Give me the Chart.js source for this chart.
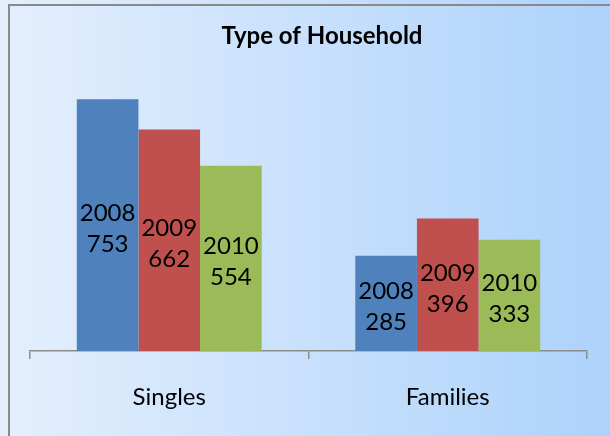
<!DOCTYPE html>
<html>
<head>
<meta charset="utf-8">
<script src="https://cdn.jsdelivr.net/npm/chart.js@4"></script>
<style>
  html, body { margin: 0; padding: 0; }
  body { width: 610px; height: 436px; overflow: hidden; position: relative;
         background: linear-gradient(to right, #E4EFFD, #ADD2FB); }
  #frame { position: absolute; left: 8px; top: 4px; width: 700px; height: 500px;
           border-left: 2px solid #898989; border-top: 2px solid #898989; }
  #householdChart { position: absolute; left: 0; top: 0; }
</style>
</head>
<body>
<div id="frame"></div>
<canvas id="householdChart" width="610" height="436"></canvas>
<script>
let categories = ["Singles", "Families"];
let years = ["2008", "2009", "2010"];
let values2008 = [753, 285];
let values2009 = [662, 396];
let values2010 = [554, 333];
let colors = ["#4F81BD", "#C0504D", "#9BBB59"];
let chartTitle = "Type of Household";

// two line label (year + value) centered in every bar
const barLabels = {
    id: "barLabels",
    afterDatasetsDraw(chart) {
        const ctx = chart.ctx;
        ctx.save();
        ctx.font = "24px Lato";
        ctx.fillStyle = "#000";
        ctx.textAlign = "center";
        ctx.textBaseline = "middle";
        chart.data.datasets.forEach((ds, i) => {
            chart.getDatasetMeta(i).data.forEach((bar, j) => {
                const mid = (bar.y + bar.base) / 2 + 3.5;
                ctx.fillText(ds.label, bar.x, mid - 15.5);
                ctx.fillText(String(ds.data[j]), bar.x, mid + 15.5);
            });
        });
        ctx.restore();
    }
};

const titleText = {
    id: "titleText",
    afterDraw(chart) {
        const ctx = chart.ctx;
        ctx.save();
        ctx.font = "bold 24px Lato";
        ctx.fillStyle = "#000";
        ctx.textAlign = "center";
        ctx.textBaseline = "middle";
        ctx.fillText(chartTitle, 322, 36);
        ctx.restore();
    }
};

const ctx = document.getElementById("householdChart").getContext("2d");
const householdChart = new Chart(ctx, {
    type: "bar",
    data: {
        labels: categories,
        datasets: [
            { label: years[0], data: values2008, backgroundColor: colors[0] },
            { label: years[1], data: values2009, backgroundColor: colors[1] },
            { label: years[2], data: values2010, backgroundColor: colors[2] }
        ]
    },
    options: {
        responsive: false,
        animation: false,
        devicePixelRatio: 1,
        layout: { padding: { left: 30, right: 23, top: 50, bottom: 1 } },
        datasets: { bar: { barPercentage: 1, categoryPercentage: 0.664 } },
        plugins: {
            legend: { display: false },
            tooltip: { enabled: false },
            title: { display: false }
        },
        scales: {
            x: {
                border: { display: true, color: "#8C8C8C", width: 1.5 },
                grid: { drawOnChartArea: false, drawTicks: true, tickLength: 8, color: "#8C8C8C", lineWidth: 1.5 },
                ticks: { color: "#000", padding: 23.6, font: { family: "Lato", size: 24 } }
            },
            y: {
                display: false,
                min: 0,
                max: 900
            }
        }
    },
    plugins: [barLabels, titleText]
});
</script>
</body>
</html>
